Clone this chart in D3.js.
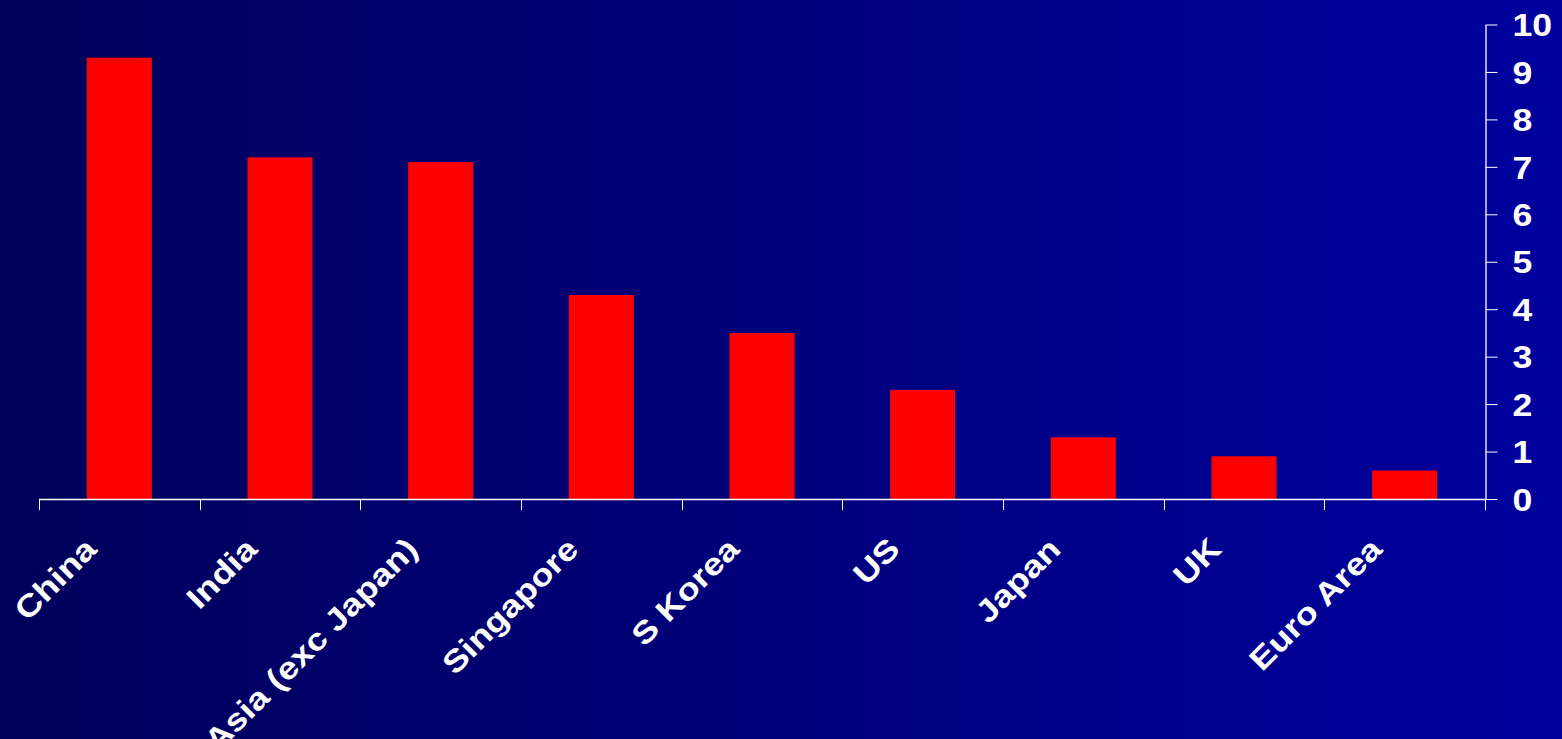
<!DOCTYPE html>
<html>
<head>
<meta charset="utf-8">
<script src="https://cdn.jsdelivr.net/npm/d3@7/dist/d3.min.js"></script>
<style>
  html, body { margin: 0; padding: 0; background: #000060; }
  svg { display: block; }
</style>
</head>
<body>
<svg id="chart" width="1562" height="739"></svg>
<script>
// ---- data ----
const categories = ["China", "India", "Asia (exc Japan)", "Singapore", "S Korea", "US", "Japan", "UK", "Euro Area"];
const values = [9.3, 7.2, 7.1, 4.3, 3.5, 2.3, 1.3, 0.9, 0.6];
const yTicks = [0, 1, 2, 3, 4, 5, 6, 7, 8, 9, 10];

// ---- layout ----
const W = 1562, H = 739;
const plot = { left: 39, right: 1485, top: 24.5, bottom: 499 };
const fontFamily = "'Liberation Sans', Arial, Helvetica, sans-serif";
const fontSize = 31;
const stretch = 1.15;

const svg = d3.select("#chart");

// background gradient
const defs = svg.append("defs");
const grad = defs.append("linearGradient").attr("id", "bg")
  .attr("x1", "0%").attr("y1", "0%").attr("x2", "100%").attr("y2", "0%");
grad.append("stop").attr("offset", "0%").attr("stop-color", "#00005a");
grad.append("stop").attr("offset", "100%").attr("stop-color", "#00009e");
svg.append("rect").attr("width", W).attr("height", H).attr("fill", "url(#bg)");

// scales
const pIn = 0.595;
const x = d3.scaleBand().domain(categories).range([plot.left, plot.right])
  .paddingInner(pIn).paddingOuter(pIn / 2);
const y = d3.scaleLinear().domain([0, 10]).range([plot.bottom, plot.top]);

// bars
svg.append("g").selectAll("rect").data(categories).join("rect")
  .attr("x", d => x(d))
  .attr("y", (d, i) => y(values[i]))
  .attr("width", x.bandwidth())
  .attr("height", (d, i) => y(0) - y(values[i]))
  .attr("fill", "#ff0000");

// x axis line + boundary ticks
const step = x.step();
const boundaries = categories.map(d => x(d) - step * pIn / 2);
boundaries.push(plot.right);
const xAxisG = svg.append("g");
xAxisG.append("line")
  .attr("x1", plot.left).attr("x2", plot.right)
  .attr("y1", y(0) + 0.5).attr("y2", y(0) + 0.5)
  .attr("stroke", "#ffffff").attr("stroke-width", 1.3);
xAxisG.selectAll("line.tick").data(boundaries).join("line")
  .attr("class", "tick")
  .attr("x1", d => Math.round(d) + 0.5).attr("x2", d => Math.round(d) + 0.5)
  .attr("y1", y(0)).attr("y2", y(0) + 11)
  .attr("stroke", "#ffffff").attr("stroke-width", 1);

// x labels, rotated 45deg (glyphs slightly widened along the baseline)
xAxisG.selectAll("text").data(categories).join("text")
  .attr("transform", d => `translate(${x(d) + x.bandwidth() / 2 - 21},551) rotate(-45) scale(1.17,1)`)
  .attr("text-anchor", "end")
  .attr("fill", "#ffffff")
  .attr("font-family", fontFamily)
  .attr("font-weight", "bold")
  .attr("font-size", fontSize)
  .text(d => d);

// y axis on right
const yAxis = d3.axisRight(y).tickValues(yTicks).tickSize(12).tickPadding(0).tickSizeOuter(0);
const yG = svg.append("g").attr("transform", `translate(${plot.right + 0.5},0)`).call(yAxis);
yG.select(".domain").attr("stroke", "#ffffff").attr("stroke-width", 1.3);
yG.selectAll(".tick line").attr("stroke", "#ffffff");
yG.selectAll(".tick text")
  .attr("x", null).attr("dy", null)
  .attr("transform", `translate(27,0) scale(${stretch},1)`)
  .attr("dy", "0.36em")
  .attr("text-anchor", "start")
  .attr("fill", "#ffffff")
  .attr("font-family", fontFamily)
  .attr("font-weight", "bold")
  .attr("font-size", fontSize);
</script>
</body>
</html>
